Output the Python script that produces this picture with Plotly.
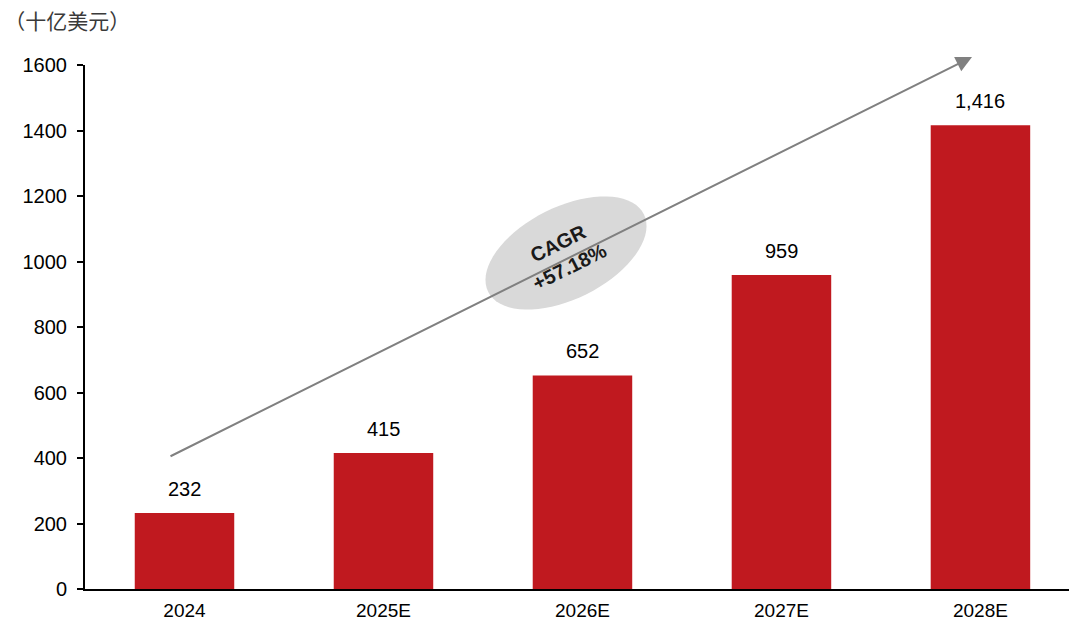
import math
import plotly.graph_objects as go

# Market size by year, in billions of USD
years = ["2024", "2025E", "2026E", "2027E", "2028E"]
values = [232, 415, 652, 959, 1416]
y_ticks = [0, 200, 400, 600, 800, 1000, 1200, 1400, 1600]
unit_label = "（十亿美元）"
cagr_text = "CAGR<br>+57.18%"

BAR_COLOR = "#C0191F"
FONT = "Liberation Sans, Arial, sans-serif"

W, H = 1069, 622
M_L, M_R, M_T, M_B = 85, 0, 65, 33
X_RANGE = [-0.5, 4.445]
Y_RANGE = [0, 1600]

plot_w = W - M_L - M_R
plot_h = H - M_T - M_B


def px_to_data(px, py):
    x = X_RANGE[0] + (px - M_L) / plot_w * (X_RANGE[1] - X_RANGE[0])
    y = Y_RANGE[0] + (H - M_B - py) / plot_h * (Y_RANGE[1] - Y_RANGE[0])
    return x, y


idx = list(range(len(years)))

fig = go.Figure()
fig.add_trace(go.Bar(
    x=idx, y=values, width=0.5,
    marker=dict(color=BAR_COLOR, line=dict(width=0)),
    hoverinfo="skip",
))

# value labels above bars
for i, v in zip(idx, values):
    fig.add_annotation(
        x=i, y=v, text=f"{v:,}", showarrow=False,
        yanchor="bottom", yshift=11,
        font=dict(family=FONT, size=20, color="#000000"),
    )

# growth arrow
x0, y0 = px_to_data(169, 457)
x1, y1 = px_to_data(972, 57)
fig.add_annotation(
    x=x1, y=y1, ax=x0, ay=y0, xref="x", yref="y", axref="x", ayref="y",
    text="", showarrow=True, arrowhead=2, arrowsize=1.6, arrowwidth=2,
    arrowcolor="#808080",
)

# rotated ellipse behind the CAGR label
cx, cy, a, b = 566, 253, 87, 46
phi = math.atan2(457 - 57, 972 - 169)
pts = []
for k in range(73):
    t = 2 * math.pi * k / 72
    px = cx + a * math.cos(t) * math.cos(phi) + b * math.sin(t) * math.sin(phi)
    py = cy - a * math.cos(t) * math.sin(phi) + b * math.sin(t) * math.cos(phi)
    pts.append(px_to_data(px, py))
path = "M " + " L ".join(f"{x:.5f},{y:.3f}" for x, y in pts) + " Z"
fig.add_shape(type="path", path=path, xref="x", yref="y",
              fillcolor="#D9D9D9", line=dict(width=0), layer="above")

tx, ty = px_to_data(564, 255)
fig.add_annotation(
    x=tx, y=ty, text=f"<b>{cagr_text}</b>", showarrow=False,
    textangle=-math.degrees(phi),
    font=dict(family=FONT, size=20, color="#1a1a1a"),
)

fig.update_layout(
    width=W, height=H,
    margin=dict(l=M_L, r=M_R, t=M_T, b=M_B, pad=0, autoexpand=False),
    paper_bgcolor="white", plot_bgcolor="white",
    showlegend=False,
    title=dict(
        text=unit_label, x=0.004, xanchor="left", xref="container",
        y=1 - 22 / H, yanchor="middle", yref="container",
        font=dict(family="Noto Sans CJK SC, sans-serif", size=21, color="#3a3a3a"),
    ),
    xaxis=dict(
        range=X_RANGE, tickvals=idx, ticktext=years, automargin=False,
        showline=True, linecolor="#000000", linewidth=2,
        ticks="", showgrid=False, zeroline=False,
        tickfont=dict(family=FONT, size=19, color="#000000"),
        ticklabelstandoff=3,
    ),
    yaxis=dict(
        range=Y_RANGE, tickvals=y_ticks, automargin=False,
        showline=True, linecolor="#000000",
        linewidth=2, ticks="outside", ticklen=6, tickwidth=1.5,
        tickcolor="#000000", showgrid=False, zeroline=False,
        tickfont=dict(family=FONT, size=20, color="#000000"),
        ticklabelstandoff=6,
    ),
)

fig.write_html("out.html")
